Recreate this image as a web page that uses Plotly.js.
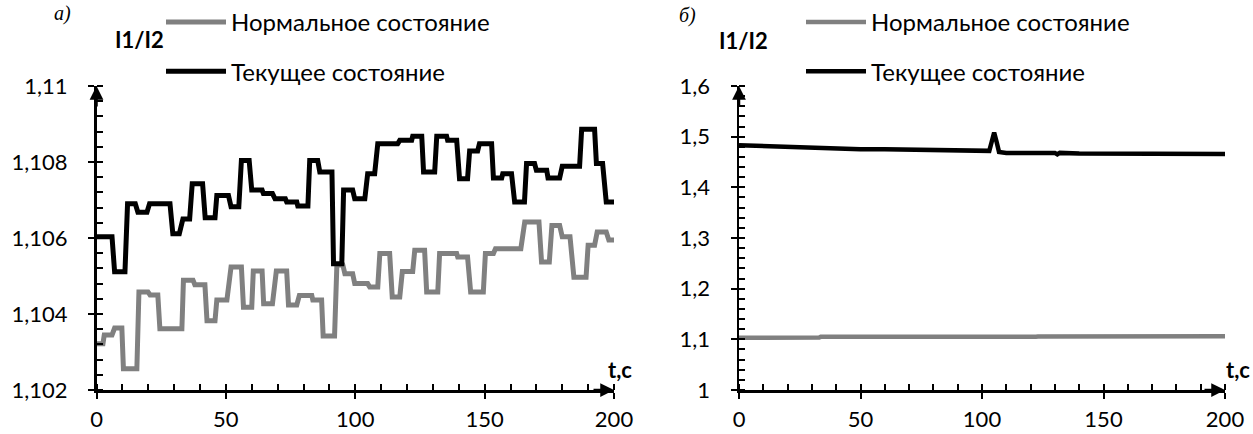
<!DOCTYPE html>
<html>
<head>
<meta charset="utf-8">
<script src="https://cdn.plot.ly/plotly-3.0.1.min.js"></script>
<style>html,body{margin:0;padding:0;background:#fff;}#chart{width:1253px;height:434px;}</style>
</head>
<body>
<div id="chart"></div>
<script>
// ---- Data ----
// Chart a) : step segments, [start t, end t, value]
const normSegStart = [0,3,7,10.4,16.4,20.7,24.5,33.6,38,42.7,46.5,52,56.8,60.6,64.6,69.5,74.2,78.4,83.6,87.6,92.9,96,99.8,105.6,109.5,114.3,118.2,123,127.6,132.6,139.6,144.6,150.3,154.2,165.5,172,176,180,184.5,190,193.5,198];
const normSegEnd   = [2.5,6,9.8,15.6,19.9,23.7,33,37.3,41.9,45.8,50.4,56,60,64,68,73.5,77.4,83.2,87,92,95.2,99,104.8,108.7,113.3,117.2,122.2,126.8,131.9,139.2,143.4,149.5,153.4,164,171,175,179,183,189.2,192.5,197,200];
const normSegVal   = [1.10322,1.10345,1.10363,1.10256,1.10458,1.10450,1.10361,1.10489,1.10477,1.10382,1.10437,1.10524,1.10418,1.10513,1.10427,1.10513,1.10424,1.10449,1.10437,1.10342,1.10529,1.10506,1.10480,1.10471,1.10559,1.10445,1.10512,1.10568,1.10458,1.10559,1.10550,1.10458,1.10559,1.10572,1.10642,1.10537,1.10633,1.10603,1.10497,1.10581,1.10616,1.10595];

const curSegStart = [0,7,12,16,20.5,29.5,33.4,37,42,46.5,52,56,60,64.5,69,73.5,77.8,82.4,86.3,91.6,95.5,99.8,104.8,108.7,117.2,122.2,126.4,131.5,135.7,140.3,144.2,148,153.4,157,161.6,166.2,170,174.5,180,187.5,193.2,197];
const curSegEnd   = [6,11,15,19.5,28.4,32,36,41,45.8,51,55,59,64,68,73,77.4,81.7,85.5,91,94.8,99,103.7,107.5,116.4,121.8,125.7,130.7,135.3,139.2,143.4,147.3,152.7,156.6,160.4,165.4,169.3,174,179,186.7,192.5,195.6,200];
const curSegVal   = [1.10603,1.10511,1.10690,1.10668,1.10690,1.10611,1.10650,1.10743,1.10653,1.10712,1.10682,1.10804,1.10726,1.10717,1.10703,1.10695,1.10684,1.10804,1.10774,1.10532,1.10726,1.10703,1.10769,1.10848,1.10857,1.10868,1.10774,1.10868,1.10857,1.10756,1.10829,1.10848,1.10758,1.10769,1.10695,1.10796,1.10778,1.10758,1.10789,1.10886,1.10796,1.10695];

// Chart б) : current state with disturbance
const tCurB = [0,10,20,30,40,50,60,70,80,90,100,103,104,105,106,107,110,120,130,131,132,140,150,160,170,180,190,200];
const vCurB = [1.483,1.481,1.479,1.477,1.476,1.475,1.475,1.474,1.474,1.473,1.472,1.472,1.490,1.508,1.490,1.470,1.468,1.468,1.468,1.465,1.468,1.467,1.467,1.467,1.466,1.466,1.467,1.466];

// Tick values
const xTicks = [0,50,100,150,200];
const seriesNames = ['Нормальное состояние','Текущее состояние'];
const panelLabels = ['а)','б)'];
const yTitle = 'I1/I2';
const xTitle = 't,c';

// ---- Build step series from segments ----
function expand(starts, ends, vals){
  const x=[], y=[];
  for(let i=0;i<starts.length;i++){ x.push(starts[i], ends[i]); y.push(vals[i], vals[i]); }
  return {x, y};
}
const normA = expand(normSegStart, normSegEnd, normSegVal);
const curA  = expand(curSegStart, curSegEnd, curSegVal);

const GRAY = '#808080', BLACK = '#000000';
const FONT = 'Lato, "Open Sans", "DejaVu Sans", sans-serif';

const data = [
  {x:normA.x, y:normA.y, xaxis:'x', yaxis:'y', mode:'lines', name:seriesNames[0], line:{color:GRAY, width:5}, legend:'legend', legendgroup:'a1'},
  {x:curA.x,  y:curA.y,  xaxis:'x', yaxis:'y', mode:'lines', name:seriesNames[1], line:{color:BLACK, width:5}, legend:'legend', legendgroup:'a2'},
  {x:normA.x, y:normA.y, xaxis:'x2', yaxis:'y2', mode:'lines', name:seriesNames[0], line:{color:GRAY, width:4.5}, legend:'legend2', legendgroup:'b1'},
  {x:tCurB,   y:vCurB,   xaxis:'x2', yaxis:'y2', mode:'lines', name:seriesNames[1], line:{color:BLACK, width:4.5}, legend:'legend2', legendgroup:'b2'},
  // invisible traces to create overlay axes (inner half of crossing major ticks)
  {x:normA.x, y:normA.y, xaxis:'x3', yaxis:'y3', mode:'lines', line:{width:0}, opacity:0, showlegend:false, hoverinfo:'skip'},
  {x:tCurB,   y:vCurB,   xaxis:'x4', yaxis:'y4', mode:'lines', line:{width:0}, opacity:0, showlegend:false, hoverinfo:'skip'}
];

const W=1253, H=434;
const domXA=[96.5/W, 614/W], domXB=[739/W, 1225/W];
const domYA=[1-390/H, 1-86/H], domYB=[1-390/H, 1-86/H];
const rngYA=[1.102, 1.11], rngYB=[1, 1.6];

function xAxis(dom, anchor){
  return {domain:dom, anchor:anchor, range:[0,200], tickmode:'array', tickvals:xTicks,
    showline:true, linecolor:BLACK, linewidth:2.5, ticks:'outside', ticklen:6, tickwidth:2, tickcolor:BLACK,
    minor:{tickmode:'linear', tick0:0, dtick:10, ticks:'inside', ticklen:6, tickwidth:2, tickcolor:BLACK},
    showgrid:false, zeroline:false, tickfont:{family:FONT, size:22, color:BLACK}, ticklabelstandoff:2, fixedrange:true};
}
function yAxis(dom, anchor, rng, dtick, minorD, fmt){
  return {domain:dom, anchor:anchor, range:rng, tick0:rng[0], dtick:dtick, tickformat:fmt,
    showline:true, linecolor:BLACK, linewidth:2.5, ticks:'outside', ticklen:6, tickwidth:2, tickcolor:BLACK,
    minor:{tickmode:'linear', tick0:rng[0], dtick:minorD, ticks:'inside', ticklen:6, tickwidth:2, tickcolor:BLACK},
    showgrid:false, zeroline:false, tickfont:{family:FONT, size:22, color:BLACK}, ticklabelstandoff:16, fixedrange:true};
}
function xOver(over, anchor){
  return {overlaying:over, anchor:anchor, range:[0,200], tickmode:'array', tickvals:xTicks, ticks:'inside', ticklen:6, tickwidth:2, tickcolor:BLACK,
    showticklabels:false, showline:false, showgrid:false, zeroline:false, fixedrange:true};
}
function yOver(over, anchor, rng, dtick){
  return {overlaying:over, anchor:anchor, range:rng, tick0:rng[0], dtick:dtick, ticks:'inside', ticklen:6, tickwidth:2, tickcolor:BLACK,
    showticklabels:false, showline:false, showgrid:false, zeroline:false, fixedrange:true};
}

function arrowUp(xr, yr, yv){
  return {xref:xr, yref:yr, x:0, y:yv, ax:0, ay:22, axref:'pixel', ayref:'pixel', text:'', showarrow:true, arrowhead:2, arrowsize:1.1, arrowwidth:2.5, arrowcolor:BLACK, standoff:0};
}
function arrowRight(xr, yr, yv){
  return {xref:xr, yref:yr, x:200, y:yv, ax:-22, ay:0, axref:'pixel', ayref:'pixel', text:'', showarrow:true, arrowhead:2, arrowsize:1.1, arrowwidth:2.5, arrowcolor:BLACK, standoff:0};
}
function txt(x, y, s, f, xa){
  return {xref:'paper', yref:'paper', x:x/W, y:1-y/H, text:s, showarrow:false, xanchor:xa||'center', yanchor:'middle', font:f};
}
const boldF = {family:FONT, size:22, color:BLACK, weight:'bold'};
const itF = {family:'"Liberation Serif", "DejaVu Serif", serif', size:20, color:BLACK, style:'italic'};

const legendCommon = {xanchor:'left', yanchor:'top', bgcolor:'rgba(0,0,0,0)', borderwidth:0,
  font:{family:FONT, size:24, color:BLACK}, tracegroupgap:15, traceorder:'grouped', itemwidth:60};

const layout = {
  width:W, height:H, margin:{l:0,r:0,t:0,b:0,pad:0}, paper_bgcolor:'#fff', plot_bgcolor:'rgba(0,0,0,0)',
  separators:', ', font:{family:FONT, size:22, color:BLACK}, hovermode:false,
  xaxis: xAxis(domXA,'y'), yaxis: yAxis(domYA,'x',rngYA,0.002,0.0004,'.3~f'),
  xaxis2: xAxis(domXB,'y2'), yaxis2: yAxis(domYB,'x2',rngYB,0.1,0.02,'.1~f'),
  xaxis3: xOver('x','y3'), yaxis3: yOver('y','x3',rngYA,0.002),
  xaxis4: xOver('x2','y4'), yaxis4: yOver('y2','x4',rngYB,0.1),
  legend: Object.assign({x:161/W, y:1-0/H}, legendCommon),
  legend2: Object.assign({x:801/W, y:1-0/H}, legendCommon),
  annotations:[
    arrowUp('x','y',1.11), arrowRight('x','y',1.102),
    arrowUp('x2','y2',1.6), arrowRight('x2','y2',1),
    txt(139, 39, yTitle, boldF), txt(744, 40, yTitle, boldF),
    txt(620, 369, xTitle, boldF), txt(1238, 369, xTitle, boldF),
    txt(62, 14, panelLabels[0], itF), txt(687, 16, panelLabels[1], itF)
  ]
};

Plotly.newPlot('chart', data, layout, {staticPlot:true, displayModeBar:false});
</script>
</body>
</html>
